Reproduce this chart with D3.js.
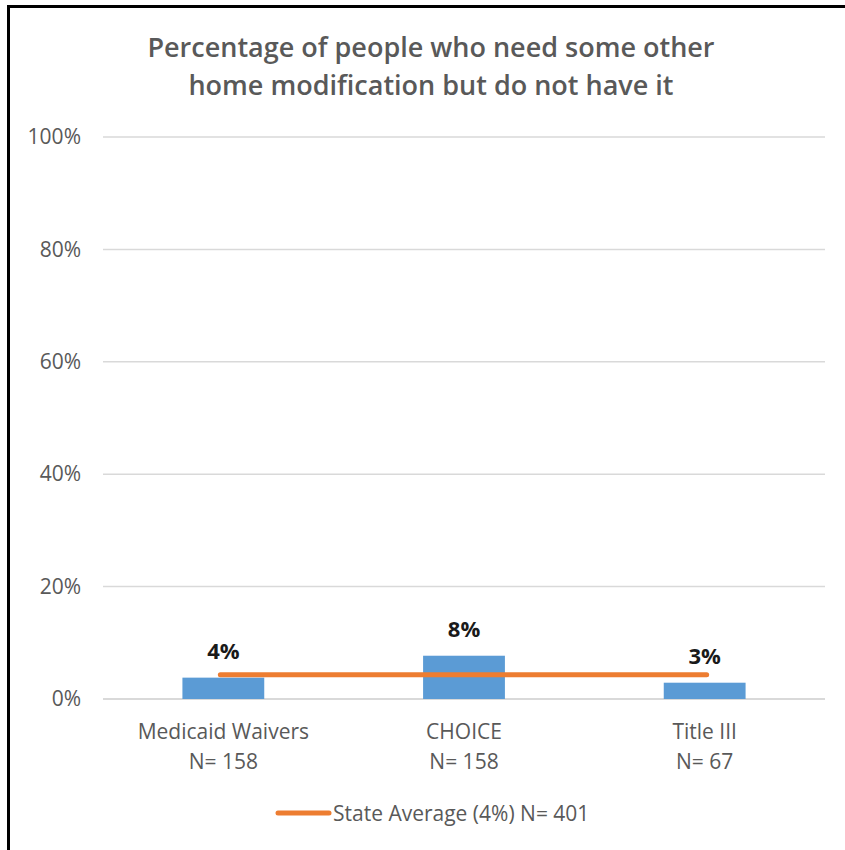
<!DOCTYPE html>
<html>
<head>
<meta charset="utf-8">
<script src="https://cdn.jsdelivr.net/npm/d3@7"></script>
<style>
  html, body { margin: 0; padding: 0; background: #fff; }
  svg { display: block; }
</style>
</head>
<body>
<script>
const categories = ["Medicaid Waivers", "CHOICE", "Title III"];
const sampleSizes = ["N= 158", "N= 158", "N= 67"];
const values = [3.8, 7.7, 2.9];
const valueLabels = ["4%", "8%", "3%"];
const stateAverage = 4.3;
const legendLabel = "State Average (4%) N= 401";
const yTicks = [0, 20, 40, 60, 80, 100];
const titleLines = ["Percentage of people who need some other", "home modification  but do not have it"];

(function () {
const W = 845, H = 850;
const font = "'Open Sans', 'Noto Sans', sans-serif";
const svg = d3.select("body").append("svg").attr("width", W).attr("height", H);

// border (top and left)
svg.append("rect").attr("x", 7).attr("y", 5).attr("width", W - 7).attr("height", 3).attr("fill", "#000");
svg.append("rect").attr("x", 7).attr("y", 5).attr("width", 3).attr("height", H - 5).attr("fill", "#000");

const plotL = 103, plotR = 825, plotT = 137, plotB = 699;
const x = d3.scaleBand().domain(categories).range([plotL, plotR]).paddingInner(0.66).paddingOuter(0.33);
const y = d3.scaleLinear().domain([0, 100]).range([plotB, plotT]);

// title
svg.append("g").selectAll("text").data(titleLines).join("text")
  .attr("x", 431).attr("y", (d, i) => 57 + i * 38)
  .attr("text-anchor", "middle").attr("font-family", font).attr("font-weight", 600)
  .attr("font-size", 27).attr("fill", "#595959").text(d => d);

// gridlines
svg.append("g").selectAll("line").data(yTicks).join("line")
  .attr("x1", plotL).attr("x2", plotR)
  .attr("y1", d => y(d)).attr("y2", d => y(d))
  .attr("stroke", "#D9D9D9").attr("stroke-width", d => d === 0 ? 2 : 1.5);

// y axis labels
const yAxis = d3.axisLeft(y).tickValues(yTicks).tickFormat(d => d + "%").tickSize(0).tickPadding(0);
const gy = svg.append("g").attr("transform", `translate(${plotL - 22},0)`).call(yAxis);
gy.select(".domain").remove();
gy.selectAll("text").attr("font-family", font).attr("font-size", 21).attr("fill", "#595959");

// bars
svg.append("g").selectAll("rect").data(values).join("rect")
  .attr("x", (d, i) => x(categories[i]))
  .attr("width", x.bandwidth())
  .attr("y", d => y(d))
  .attr("height", d => y(0) - y(d))
  .attr("fill", "#5B9BD5");

// state average line
const cx = c => x(c) + x.bandwidth() / 2;
svg.append("line")
  .attr("x1", cx(categories[0]) - 3).attr("x2", cx(categories[2]) + 2)
  .attr("y1", y(stateAverage)).attr("y2", y(stateAverage))
  .attr("stroke", "#ED7D31").attr("stroke-width", 5).attr("stroke-linecap", "round");

// value labels
svg.append("g").selectAll("text").data(values).join("text")
  .attr("x", (d, i) => cx(categories[i]))
  .attr("y", d => y(d) - 19)
  .attr("text-anchor", "middle").attr("font-family", font).attr("font-weight", "bold")
  .attr("font-size", 22).attr("fill", "#1a1a1a").text((d, i) => valueLabels[i]);

// category labels
const gx = svg.append("g");
categories.forEach((c, i) => {
  const t = gx.append("text").attr("x", cx(c)).attr("text-anchor", "middle")
    .attr("font-family", font).attr("font-size", 21).attr("fill", "#595959");
  t.append("tspan").attr("x", cx(c)).attr("y", 739).text(c);
  t.append("tspan").attr("x", cx(c)).attr("y", 769).text(sampleSizes[i]);
});

// legend
svg.append("line").attr("x1", 278).attr("x2", 329).attr("y1", 813).attr("y2", 813)
  .attr("stroke", "#ED7D31").attr("stroke-width", 5).attr("stroke-linecap", "round");
svg.append("text").attr("x", 333).attr("y", 820.5)
  .attr("font-family", font).attr("font-size", 21).attr("fill", "#595959").text(legendLabel);
})();
</script>
</body>
</html>
